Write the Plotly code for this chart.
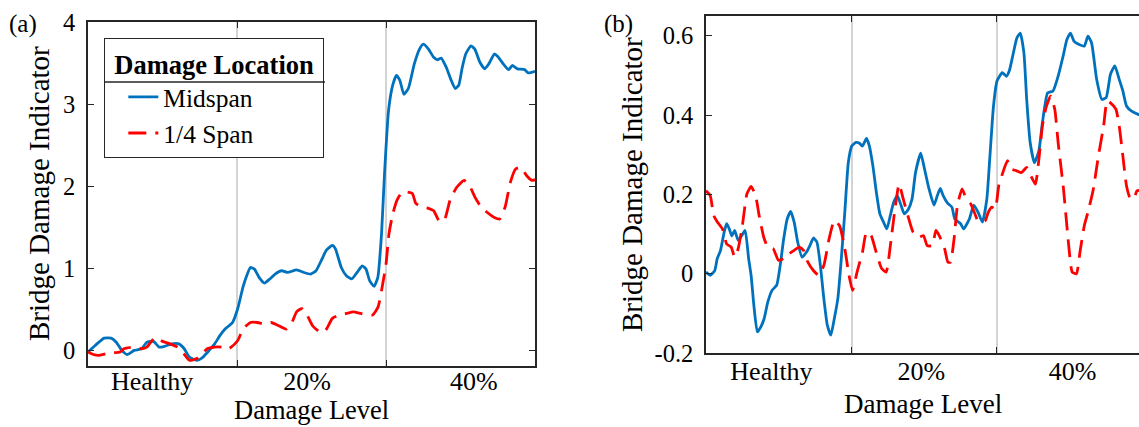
import plotly.graph_objects as go

# ---------------- data ----------------
level_labels = ["Healthy", "20%", "40%"]
a_label_pos = [0.43, 1.47, 2.59]
b_label_pos = [0.45, 1.48, 2.52]
level_bounds = [1, 2]

a_mid_x = [0, 0.048, 0.108, 0.155, 0.19, 0.227, 0.263, 0.31, 0.36, 0.395, 0.44, 0.478, 0.514, 0.562,
           0.61, 0.646, 0.68, 0.73, 0.766, 0.813, 0.85, 0.885, 0.92, 0.97, 1.005, 1.04, 1.065, 1.09,
           1.117, 1.148, 1.184, 1.22, 1.256, 1.30, 1.34, 1.40, 1.447, 1.495, 1.53, 1.567, 1.60, 1.64,
           1.66, 1.70, 1.734, 1.77, 1.806, 1.84, 1.866, 1.89, 1.92, 1.945, 1.97, 1.99, 2.017, 2.045,
           2.07, 2.093, 2.12, 2.15, 2.19, 2.225, 2.25, 2.285, 2.32, 2.345, 2.37, 2.404, 2.433, 2.464,
           2.488, 2.51, 2.535, 2.57, 2.596, 2.63, 2.663, 2.69, 2.727, 2.75, 2.787, 2.823, 2.847, 2.883,
           2.93, 2.955, 3.0]
a_mid_y = [-0.02, 0.06, 0.15, 0.15, 0.10, 0.0, -0.05, 0.0, 0.02, 0.10, 0.11, 0.04, 0.05, 0.08,
           0.08, 0.02, -0.08, -0.12, -0.09, 0.0, 0.08, 0.18, 0.26, 0.34, 0.51, 0.77, 0.91, 1.01,
           0.99, 0.89, 0.82, 0.87, 0.93, 0.97, 0.95, 0.98, 0.95, 0.93, 0.97, 1.10, 1.22, 1.28,
           1.24, 1.01, 0.91, 0.87, 0.95, 1.03, 0.99, 0.85, 0.78, 0.89, 1.42, 2.15, 2.92, 3.23,
           3.35, 3.29, 3.12, 3.19, 3.49, 3.67, 3.73, 3.67, 3.57, 3.54, 3.56, 3.45, 3.31, 3.19,
           3.23, 3.43, 3.61, 3.71, 3.67, 3.51, 3.43, 3.49, 3.61, 3.58, 3.49, 3.42, 3.47, 3.43,
           3.42, 3.38, 3.40]

a_qtr_x = [0, 0.036, 0.072, 0.12, 0.167, 0.215, 0.24, 0.30, 0.36, 0.395, 0.43, 0.455, 0.50, 0.55,
           0.60, 0.634, 0.68, 0.73, 0.766, 0.80, 0.85, 0.897, 0.945, 1.005, 1.04, 1.09, 1.136, 1.184,
           1.23, 1.28, 1.33, 1.364, 1.40, 1.435, 1.47, 1.507, 1.543, 1.567, 1.60, 1.64, 1.687, 1.734,
           1.78, 1.83, 1.876, 1.91, 1.947, 1.97, 2.0, 2.02, 2.045, 2.074, 2.105, 2.14, 2.177, 2.2,
           2.237, 2.285, 2.32, 2.356, 2.39, 2.43, 2.476, 2.524, 2.56, 2.596, 2.63, 2.68, 2.727, 2.763,
           2.8, 2.835, 2.87, 2.907, 2.943, 2.98, 3.0]
a_qtr_y = [-0.02, -0.05, -0.06, -0.04, -0.03, -0.02, 0.02, 0.04, 0.02, 0.04, 0.12, 0.16, 0.11, 0.08,
           0.04, -0.02, -0.12, -0.10, -0.04, 0.02, 0.04, 0.04, 0.02, 0.12, 0.26, 0.34, 0.34, 0.32,
           0.34, 0.30, 0.26, 0.32, 0.47, 0.51, 0.43, 0.30, 0.24, 0.21, 0.26, 0.39, 0.43, 0.45,
           0.47, 0.45, 0.43, 0.43, 0.53, 0.73, 1.05, 1.42, 1.66, 1.83, 1.92, 1.93, 1.91, 1.79,
           1.75, 1.73, 1.70, 1.58, 1.58, 1.83, 1.99, 2.07, 2.01, 1.87, 1.77, 1.68, 1.62, 1.60,
           1.75, 2.05, 2.21, 2.23, 2.13, 2.07, 2.08]

b_mid_x = [0, 0.029, 0.06, 0.077, 0.10, 0.125, 0.142, 0.16, 0.178, 0.197, 0.221, 0.245, 0.269, 0.293,
           0.31, 0.329, 0.353, 0.377, 0.40, 0.425, 0.454, 0.486, 0.51, 0.534, 0.558, 0.582, 0.606, 0.63,
           0.66, 0.69, 0.714, 0.738, 0.762, 0.786, 0.81, 0.834, 0.858, 0.882, 0.906, 0.93, 0.954, 0.978,
           1.002, 1.031, 1.055, 1.075, 1.103, 1.123, 1.147, 1.171, 1.195, 1.219, 1.243, 1.267, 1.29,
           1.315, 1.34, 1.363, 1.39, 1.416, 1.44, 1.476, 1.502, 1.53, 1.567, 1.59, 1.61, 1.63, 1.66,
           1.69, 1.71, 1.75, 1.77, 1.81, 1.84, 1.87, 1.90, 1.93, 1.95, 1.976, 2.0, 2.036, 2.065, 2.084,
           2.108, 2.137, 2.16, 2.185, 2.204, 2.228, 2.257, 2.288, 2.312, 2.348, 2.385, 2.42, 2.457,
           2.48, 2.505, 2.53, 2.565, 2.6, 2.625, 2.65, 2.685, 2.72, 2.75, 2.78, 2.81, 2.84, 2.865,
           2.89, 2.925, 2.97, 3.0]
b_mid_y = [0.004, -0.004, 0.008, 0.038, 0.059, 0.105, 0.126, 0.113, 0.095, 0.109, 0.084, 0.096, 0.109, 0.038,
           -0.004, -0.08, -0.147, -0.134, -0.113, -0.071, -0.042, -0.029, 0.021, 0.088, 0.138, 0.157, 0.13, 0.08,
           0.042, 0.054, 0.071, 0.09, 0.08, 0.021, -0.063, -0.13, -0.155, -0.113, -0.063, 0.038, 0.155, 0.28,
           0.322, 0.331, 0.329, 0.322, 0.341, 0.322, 0.272, 0.205, 0.151, 0.131, 0.113, 0.147, 0.18,
           0.197, 0.173, 0.151, 0.162, 0.188, 0.255, 0.304, 0.264, 0.218, 0.173, 0.197, 0.215, 0.197, 0.178,
           0.168, 0.138, 0.126, 0.113, 0.138, 0.173, 0.155, 0.13, 0.188, 0.289, 0.423, 0.486, 0.507, 0.498, 0.511,
           0.549, 0.595, 0.607, 0.557, 0.44, 0.331, 0.28, 0.31, 0.38, 0.456, 0.461, 0.498, 0.553,
           0.59, 0.607, 0.586, 0.578, 0.574, 0.599, 0.582, 0.49, 0.44, 0.444, 0.503, 0.524, 0.49, 0.461,
           0.423, 0.41, 0.402, 0.40]

b_qtr_x = [0, 0.029, 0.053, 0.077, 0.113, 0.142, 0.173, 0.197, 0.221, 0.25, 0.281, 0.31, 0.341, 0.365,
           0.397, 0.425, 0.462, 0.498, 0.534, 0.57, 0.606, 0.642, 0.67, 0.70, 0.738, 0.774, 0.81, 0.846,
           0.882, 0.918, 0.954, 0.983, 1.007, 1.038, 1.075, 1.103, 1.135, 1.17, 1.207, 1.238, 1.267,
           1.296, 1.327, 1.356, 1.387, 1.423, 1.46, 1.495, 1.52, 1.555, 1.58, 1.603, 1.64, 1.663, 1.68,
           1.705, 1.728, 1.76, 1.79, 1.82, 1.844, 1.868, 1.897, 1.92, 1.94, 1.964, 1.988, 2.012, 2.04,
           2.072, 2.096, 2.132, 2.168, 2.204, 2.233, 2.264, 2.288, 2.312, 2.337, 2.368, 2.397, 2.42,
           2.457, 2.493, 2.517, 2.546, 2.57, 2.6, 2.625, 2.66, 2.697, 2.733, 2.757, 2.78, 2.817, 2.84,
           2.865, 2.89, 2.913, 2.94, 2.962, 3.0]
b_qtr_y = [0.209, 0.197, 0.147, 0.131, 0.113, 0.075, 0.067, 0.042, 0.063, 0.121, 0.201, 0.22, 0.197, 0.147,
           0.092, 0.067, 0.063, 0.034, 0.038, 0.05, 0.059, 0.067, 0.059, 0.029, 0.008, -0.004, 0.021, 0.088,
           0.134, 0.121, 0.063, -0.004, -0.042, 0.004, 0.054, 0.105, 0.096, 0.054, 0.013, 0.004, 0.071,
           0.155, 0.226, 0.188, 0.147, 0.105, 0.092, 0.096, 0.071, 0.071, 0.109, 0.096, 0.063, 0.029, 0.029,
           0.088, 0.172, 0.214, 0.188, 0.176, 0.155, 0.134, 0.13, 0.134, 0.155, 0.168, 0.163, 0.222, 0.255,
           0.285, 0.264, 0.26, 0.255, 0.268, 0.247, 0.226, 0.289, 0.373, 0.419, 0.448, 0.415, 0.331,
           0.214, 0.071, 0.004, 0.0, 0.054, 0.121, 0.155, 0.209, 0.297, 0.373, 0.436, 0.431, 0.415, 0.373,
           0.297, 0.222, 0.193, 0.188, 0.209, 0.21]

a_yticks = [0, 1, 2, 3, 4]
b_yticks = [-0.2, 0, 0.2, 0.4, 0.6]
b_yticktext = ["-0.2", "0", "0.2", "0.4", "0.6"]

series_names = ["Midspan", "1/4 Span"]

# ---------------- styling ----------------
W, H = 1139, 427
FONT = "Liberation Serif"
BLUE = "#0072BD"
RED = "#FF0000"
AXC = "#262626"
GRIDC = "#d4d4d4"
DASH = "18px,9px"
LW = 2.8

def px_x(p):
    return p / W

def px_y(p):
    return (H - p) / H

fig = go.Figure()

fig.add_trace(go.Scatter(x=a_mid_x, y=a_mid_y, mode="lines", name=series_names[0],
                         line=dict(color=BLUE, width=LW, shape="spline", smoothing=0.5),
                         xaxis="x", yaxis="y", showlegend=True))
fig.add_trace(go.Scatter(x=a_qtr_x, y=a_qtr_y, mode="lines", name=series_names[1],
                         line=dict(color=RED, width=LW, dash=DASH, shape="spline", smoothing=0.5),
                         xaxis="x", yaxis="y", showlegend=True))
fig.add_trace(go.Scatter(x=b_mid_x, y=b_mid_y, mode="lines", name=series_names[0],
                         line=dict(color=BLUE, width=LW, shape="spline", smoothing=0.5),
                         xaxis="x2", yaxis="y2", showlegend=False))
fig.add_trace(go.Scatter(x=b_qtr_x, y=b_qtr_y, mode="lines", name=series_names[1],
                         line=dict(color=RED, width=LW, dash=DASH, shape="spline", smoothing=0.5),
                         xaxis="x2", yaxis="y2", showlegend=False))

def xaxis_cfg(domain, rng, anchor, labelpos, standoff):
    return dict(domain=domain, range=rng, anchor=anchor, automargin=False,
                tickmode="array", tickvals=labelpos, ticktext=level_labels,
                ticks="", showgrid=False, zeroline=False,
                showline=True, linecolor=AXC, linewidth=1.5, mirror="ticks",
                tickfont=dict(family=FONT, size=26, color="black"),
                ticklabelstandoff=standoff,
                minor=dict(tickmode="array", tickvals=level_bounds, ticks="inside",
                           ticklen=6, tickcolor=AXC, tickwidth=1.2,
                           showgrid=True, gridcolor=GRIDC, gridwidth=1.5))

def yaxis_cfg(domain, rng, anchor, tickvals, ticktext, mirror):
    return dict(domain=domain, range=rng, anchor=anchor, automargin=False,
                tickmode="array", tickvals=tickvals, ticktext=ticktext,
                ticks="inside", ticklen=6, tickcolor=AXC, tickwidth=1.2,
                showgrid=False, zeroline=False,
                showline=True, linecolor=AXC, linewidth=1.5, mirror=mirror,
                tickfont=dict(family=FONT, size=24.5, color="black"),
                ticklabelstandoff=6)

LEG_L, LEG_T, LEG_R, LEG_B, LEG_SEP = 104, 38, 325, 157, 82

fig.update_layout(
    width=W, height=H,
    margin=dict(l=0, r=0, t=0, b=0, pad=0, autoexpand=False),
    paper_bgcolor="white", plot_bgcolor="white",
    font=dict(family=FONT, color="black"),
    xaxis=xaxis_cfg([px_x(88), px_x(535)], [0, 3], "y", a_label_pos, -9),
    yaxis=yaxis_cfg([px_y(366), px_y(22)], [-0.19, 4.0], "x", a_yticks,
                    [str(v) for v in a_yticks], "ticks"),
    xaxis2=xaxis_cfg([px_x(706), 1.0], [0, 2.976], "y2", b_label_pos, -6),
    yaxis2=yaxis_cfg([px_y(353), px_y(16)], [-0.2, 0.65], "x2", b_yticks, b_yticktext, False),
    legend=dict(x=px_x(LEG_L), y=px_y(LEG_T), xanchor="left", yanchor="top",
                bgcolor="rgba(0,0,0,0)", bordercolor=AXC, borderwidth=1.3,
                font=dict(family=FONT, size=25.5, color="black"),
                title=dict(text="&nbsp;<b>Damage Location</b>&nbsp;", side="top center",
                           font=dict(family=FONT, size=26.5, color="black")),
                indentation=18, tracegroupgap=0),
    showlegend=True,
)

# white backing for the legend (hides grid line) and separator under the title
fig.add_shape(type="rect", xref="paper", yref="paper", layer="above",
              x0=px_x(LEG_L), x1=px_x(LEG_R), y0=px_y(LEG_B), y1=px_y(LEG_T),
              fillcolor="white", line=dict(width=0))
fig.add_shape(type="line", xref="paper", yref="paper", layer="above",
              x0=px_x(LEG_L), x1=px_x(LEG_R), y0=px_y(LEG_SEP), y1=px_y(LEG_SEP),
              line=dict(color=AXC, width=1.3))

# axis titles and panel labels
def text_ann(text, x, y, size, angle=0):
    return dict(text=text, x=px_x(x), y=px_y(y), xref="paper", yref="paper",
                xanchor="center", yanchor="middle", showarrow=False, textangle=angle,
                font=dict(family=FONT, size=size, color="black"))

ann = [
    text_ann("Damage Level", 311.5, 410, 26.5),
    text_ann("Damage Level", 923, 404, 27),
    text_ann("Bridge Damage Indicator", 39, 194, 29, -90),
    text_ann("Bridge Damage Indicator", 632, 185, 29, -90),
    text_ann("(a)", 23, 24, 25),
    text_ann("(b)", 618, 24, 25),
]
fig.update_layout(annotations=ann)

fig.write_html("out.html", config={"displayModeBar": False},
               post_script="document.body.style.margin='0px';")
